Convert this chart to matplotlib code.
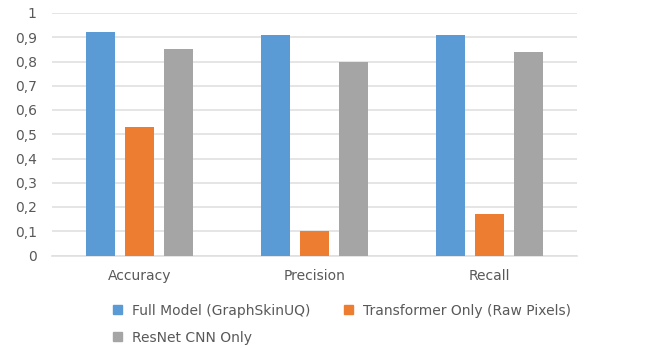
import numpy as np
import matplotlib.pyplot as plt
from matplotlib.patches import Patch
from matplotlib.ticker import FuncFormatter

metrics = ["Accuracy", "Precision", "Recall"]
series = ["Full Model (GraphSkinUQ)", "Transformer Only (Raw Pixels)", "ResNet CNN Only"]
full_model = [0.92, 0.91, 0.91]
transformer = [0.53, 0.10, 0.17]
resnet = [0.85, 0.80, 0.84]
colors = ["#5B9BD5", "#ED7D31", "#A5A5A5"]

plt.rcParams['font.family'] = ['DejaVu Sans']
txt = "#595959"

fig = plt.figure(figsize=(6.6, 3.48), dpi=100)
ax = fig.add_axes([52 / 660, 92.5 / 348, 525 / 660, 242.5 / 348])

x = np.arange(len(metrics))
w = 0.171
step = 0.223
for i, vals in enumerate([full_model, transformer, resnet]):
    ax.bar(x + (i - 1) * step, vals, width=w, color=colors[i], zorder=3)

ax.set_xlim(-0.5, 2.5)
ax.set_ylim(0, 1)
ax.set_yticks(np.arange(0, 1.01, 0.1))
ax.yaxis.set_major_formatter(FuncFormatter(
    lambda v, p: "0" if abs(v) < 1e-9 else ("1" if abs(v - 1) < 1e-9 else f"{v:.1f}".replace(".", ","))))
ax.set_xticks(x)
ax.set_xticklabels(metrics)
ax.grid(axis="y", color="#e0e0e0", linewidth=1.2, zorder=0)
for s in ["top", "right", "left"]:
    ax.spines[s].set_visible(False)
ax.spines["bottom"].set_color("#e0e0e0")
ax.spines["bottom"].set_linewidth(1.2)
ax.tick_params(axis="both", length=0, colors=txt, labelsize=10)
ax.tick_params(axis="y", pad=11)
ax.tick_params(axis="x", pad=10)

# legend filled column-wise, so order handles to read across rows
handles = [Patch(color=colors[0], label=series[0]),
           Patch(color=colors[2], label=series[2]),
           Patch(color=colors[1], label=series[1])]
fig.legend(handles=handles, ncol=2, frameon=False, loc="upper left",
           bbox_to_anchor=(100 / 660, 1 - 291 / 348), fontsize=10,
           handlelength=0.65, handleheight=0.65, handletextpad=0.75,
           columnspacing=2.4, labelspacing=0.95, labelcolor=txt)

fig.savefig("out.png", dpi=100)
